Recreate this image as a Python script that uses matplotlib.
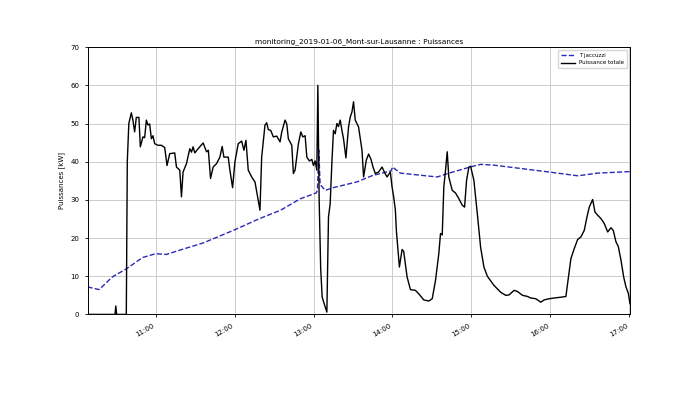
import matplotlib
matplotlib.use('Agg')
import matplotlib.pyplot as plt
import matplotlib.dates as mdates
import pandas as pd

day = '2019-01-06 '

# T jaccuzzi (blue dashed)
t_jac = ['10:08:10', '10:17:00', '10:27:00', '10:38:00', '10:50:00', '11:00:00', '11:08:00',
         '11:18:00', '11:36:00', '11:59:00', '12:19:00', '12:35:00', '12:50:00', '13:02:00',
         '13:03:00', '13:04:00', '13:05:00', '13:09:00', '13:15:00', '13:33:00', '13:45:00',
         '13:59:00', '14:00:00', '14:06:00', '14:34:00', '14:42:00', '14:59:00', '15:07:00',
         '15:17:00', '15:59:00', '16:21:00', '16:36:00', '17:00:00', '17:00:35']
v_jac = [7.2, 6.5, 9.8, 12.0, 14.9, 15.9, 15.7, 16.8, 18.7, 22.0, 25.1, 27.3, 30.3, 31.8,
         32.5, 43.0, 34.0, 32.5, 33.2, 34.7, 36.4, 37.6, 38.6, 37.0, 36.0, 36.9, 38.6, 39.3,
         39.1, 37.3, 36.3, 37.0, 37.4, 37.5]

# Puissance totale (black)
t_tot = ['10:08:10', '10:09:00', '10:29:05', '10:29:40', '10:30:20', '10:37:40', '10:38:25',
         '10:39:35', '10:41:30', '10:42:40', '10:44:00', '10:45:17', '10:47:16', '10:48:20',
         '10:50:19', '10:51:37', '10:52:55', '10:54:08', '10:55:25', '10:56:43', '10:57:56',
         '10:59:14', '11:01:45', '11:04:21', '11:06:52', '11:08:37', '11:10:40', '11:14:29',
         '11:15:47', '11:18:18', '11:19:36', '11:20:49', '11:23:25', '11:25:55', '11:27:13',
         '11:28:26', '11:29:44', '11:32:15', '11:36:04', '11:38:40', '11:40:02', '11:41:42',
         '11:43:41', '11:46:17', '11:48:48', '11:50:33', '11:51:51', '11:55:08', '11:56:25',
         '11:58:28', '12:00:13', '12:02:44', '12:05:20', '12:07:05', '12:08:37', '12:10:22',
         '12:12:58', '12:15:29', '12:18:00', '12:19:17', '12:20:35', '12:23:06', '12:24:23',
         '12:25:37', '12:27:27', '12:29:26', '12:32:02', '12:34:33', '12:35:51', '12:38:21',
         '12:39:39', '12:40:52', '12:43:28', '12:44:41', '12:45:59', '12:48:30', '12:50:20',
         '12:51:51', '12:53:36', '12:54:54', '12:56:53', '12:58:43', '12:59:56', '13:01:13',
         '13:02:30', '13:03:17', '13:04:17', '13:05:26', '13:06:35', '13:08:05', '13:10:08',
         '13:11:22', '13:12:39', '13:13:55', '13:15:10', '13:16:28', '13:17:46', '13:18:59',
         '13:20:17', '13:21:35', '13:22:48', '13:24:38', '13:26:37', '13:27:55', '13:29:12',
         '13:30:25', '13:31:43', '13:34:14', '13:36:50', '13:38:03', '13:40:07', '13:41:52',
         '13:43:42', '13:45:13', '13:46:58', '13:49:29', '13:52:05', '13:53:50', '13:55:53',
         '13:58:24', '13:59:41', '14:00:55', '14:02:13', '14:02:58', '14:05:16', '14:07:19',
         '14:08:32', '14:11:08', '14:13:40', '14:17:28', '14:19:59', '14:23:48', '14:27:37',
         '14:30:13', '14:32:44', '14:35:14', '14:36:32', '14:37:50', '14:39:03', '14:40:21',
         '14:41:37', '14:42:50', '14:45:26', '14:47:57', '14:50:30', '14:53:05', '14:54:50',
         '14:56:20', '14:58:06', '14:59:24', '15:01:55', '15:04:30', '15:07:01', '15:09:32',
         '15:12:08', '15:17:10', '15:22:16', '15:26:05', '15:28:37', '15:32:26', '15:35:01',
         '15:38:50', '15:42:38', '15:45:10', '15:48:58', '15:52:47', '15:55:19', '15:59:08',
         '16:02:57', '16:08:02', '16:11:51', '16:13:08', '16:15:39', '16:18:10', '16:20:45',
         '16:23:16', '16:25:48', '16:27:51', '16:29:37', '16:32:12', '16:33:57', '16:35:59',
         '16:38:30', '16:41:01', '16:43:37', '16:46:07', '16:47:52', '16:49:55', '16:51:40',
         '16:53:44', '16:55:46', '16:57:31', '16:59:16', '17:00:35']
v_tot = [1.0, 0, 0, 2.2, 0, 0, 40,
         50, 52.8, 50.9, 47.8, 51.6, 51.6, 43.9,
         46.5, 46.3, 50.9, 49.6, 49.9, 46.0, 46.8,
         44.7, 44.3, 44.3, 43.7, 39.0, 42.1, 42.3,
         38.6, 37.8, 30.8, 37.3, 39.5, 43.4, 42.5,
         43.9, 42.3, 43.4, 44.9, 42.6, 43.0, 35.6,
         38.6, 39.5, 41.2, 44.0, 41.2, 41.2, 37.8,
         33.2, 39.9, 44.7, 45.4, 43.0, 45.6, 37.8,
         36.0, 34.7, 29.9, 27.3, 41.2, 49.6, 50.2,
         48.4, 48.2, 46.5, 46.7, 45.2, 47.8, 50.9,
         49.9, 46.0, 44.3, 36.9, 37.8, 44.7, 47.8,
         46.5, 46.8, 41.2, 40.2, 40.6, 39.0, 40.2,
         37.8, 60.0, 30, 12, 4.5, 2.8, 0.6,
         25.5, 29.0, 39.5, 48.2, 47.3, 50.0, 49.2,
         50.9, 48.2, 46.0, 41.0, 49.1, 51.7, 53.0,
         55.7, 50.9, 49.1, 43.0, 36.0, 40.4, 42.0,
         40.6, 38.6, 36.9, 37.3, 38.6, 37.3, 36.0,
         37.3, 33.4, 30.8, 27.3, 22.0, 12.4, 17.0,
         16.5, 9.8, 6.5, 6.3, 5.4, 3.8, 3.5,
         4.1, 8.9, 15.9, 21.2, 20.8, 33.4, 37.8,
         42.6, 36.0, 32.5, 31.8, 30.3, 28.6, 28.1,
         35.1, 38.6, 38.8, 35.1, 26.4, 17.6, 12.4,
         10.0, 7.6, 5.8, 5.0, 5.1, 6.3, 6.0,
         5.0, 4.7, 4.3, 4.1, 3.2, 3.8, 4.1,
         4.3, 4.5, 4.7, 8.0, 14.6, 17.2, 19.6,
         20.3, 22.0, 25.5, 28.1, 30.1, 26.8, 26.0,
         25.1, 23.8, 21.6, 22.7, 22.0, 19.0, 17.8,
         14.2, 9.8, 7.2, 5.6, 2.8]

x_jac = pd.to_datetime([day + t for t in t_jac])
x_tot = pd.to_datetime([day + t for t in t_tot])

fig, ax = plt.subplots(figsize=(7, 3.93), dpi=100)
ax.plot(x_jac, v_jac, '--', color='#2a2ab8', lw=1.0, label='T jaccuzzi')
ax.plot(x_tot, v_tot, color='black', lw=1.0, label='Puissance totale')

ax.set_xlim(x_tot[0], x_tot[-1])
ax.set_ylim(0, 70)
ax.xaxis.set_major_locator(mdates.HourLocator())
ax.xaxis.set_major_formatter(mdates.DateFormatter('%H:%M'))
ax.tick_params(labelsize=5, length=2.5, width=0.6)
ax.grid(True, color='#cccccc', lw=0.7)
for s in ax.spines.values():
    s.set_linewidth(0.7)
ax.set_ylabel('Puissances [kW]', fontsize=5)
ax.set_title('monitoring_2019-01-06_Mont-sur-Lausanne : Puissances', fontsize=5.3, pad=3)
ax.legend(loc='upper right', fontsize=4, handlelength=2.5, borderpad=0.5)

fig.autofmt_xdate()
plt.subplots_adjust(left=0.125, right=0.9, top=0.88, bottom=0.2)
plt.savefig('out.png', dpi=100)
